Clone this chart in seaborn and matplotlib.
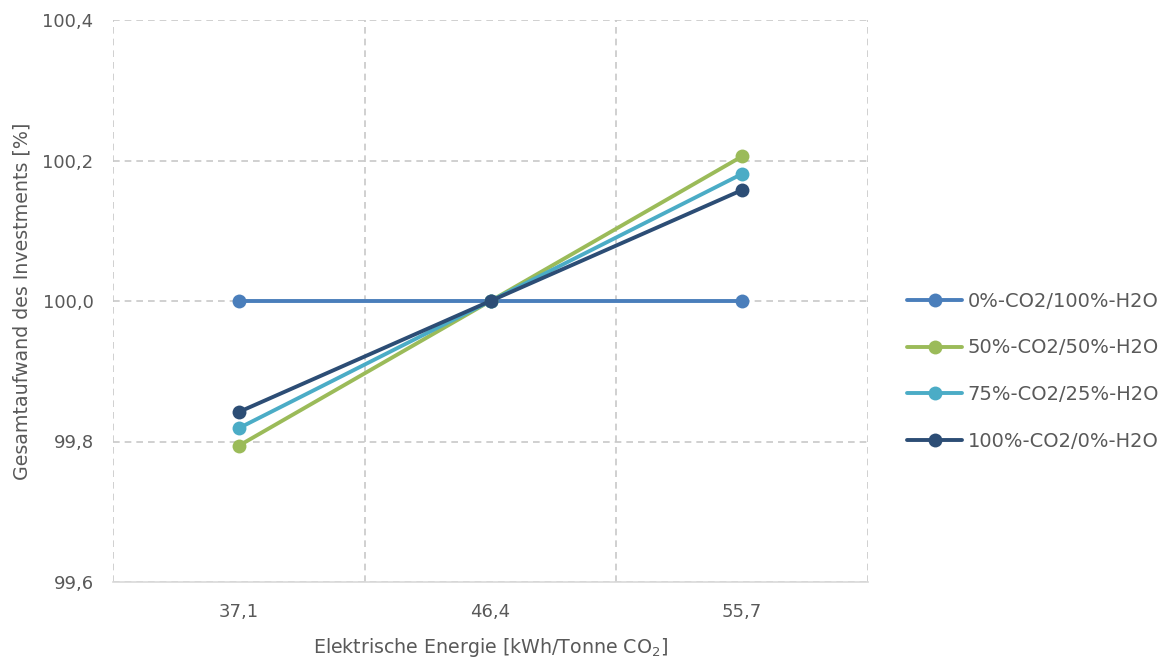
import matplotlib
matplotlib.use("Agg")
import matplotlib.pyplot as plt
import numpy as np
import pandas as pd
import seaborn as sns

energie = ["37,1", "46,4", "55,7"]
serien = ["0%-CO2/100%-H2O", "50%-CO2/50%-H2O", "75%-CO2/25%-H2O", "100%-CO2/0%-H2O"]
werte_0 = [100.0, 100.0, 100.0]
werte_50 = [99.794, 100.0, 100.206]
werte_75 = [99.819, 100.0, 100.181]
werte_100 = [99.842, 100.0, 100.158]
farben = ["#4a7ebb", "#9bbb59", "#4bacc6", "#2c4d75"]
y_ticks = [99.6, 99.8, 100.0, 100.2, 100.4]

rows = []
for name, vals in zip(serien, [werte_0, werte_50, werte_75, werte_100]):
    for i, v in enumerate(vals):
        rows.append({"pos": i, "Serie": name, "Wert": v})
df = pd.DataFrame(rows)

sns.set_style("white")
plt.rcParams["font.family"] = ["DejaVu Sans"]

fig = plt.figure(figsize=(11.66, 6.59), dpi=100)
ax = fig.add_axes([113 / 1166, 1 - 582 / 659, (868 - 113) / 1166, (582 - 20) / 659])

sns.lineplot(data=df, x="pos", y="Wert", hue="Serie", palette=farben, hue_order=serien,
             marker="o", markersize=10, markeredgewidth=0, linewidth=2.8, ax=ax, legend=True)

ax.set_xlim(-0.5, 2.5)
ax.set_ylim(99.6, 100.4)
ax.set_xticks([0, 1, 2])
ax.set_xticklabels(energie)
ax.set_yticks(y_ticks)
ax.set_yticklabels([f"{t:.1f}".replace(".", ",") for t in y_ticks])
ax.set_xticks([-0.5, 0.5, 1.5, 2.5], minor=True)
ax.grid(False)
ax.grid(which="minor", axis="x", color="#c8c8c8", linestyle=(0, (4, 3)), linewidth=1.2)
ax.grid(which="major", axis="y", color="#c8c8c8", linestyle=(0, (4, 3)), linewidth=1.2)
ax.tick_params(which="both", length=0, colors="#595959", labelsize=13)
ax.tick_params(axis="y", pad=14)
ax.tick_params(axis="x", pad=15)

for s in ["top", "right", "left"]:
    ax.spines[s].set_visible(False)
ax.spines["bottom"].set_color("#d9d9d9")
ax.spines["bottom"].set_linewidth(1.2)

ax.set_xlabel("Elektrische Energie [kWh/Tonne CO$_2$]", color="#595959", fontsize=13.7, labelpad=11)
ax.set_ylabel("Gesamtaufwand des Investments [%]", color="#595959", fontsize=13.7, labelpad=8)

leg = ax.legend(loc="center left", bbox_to_anchor=(1.042, 0.375), frameon=False,
                fontsize=14, labelspacing=1.42, handlelength=2.8, handletextpad=0.3,
                borderaxespad=0)
for t in leg.get_texts():
    t.set_color("#595959")

fig.savefig("out.png", dpi=100)
